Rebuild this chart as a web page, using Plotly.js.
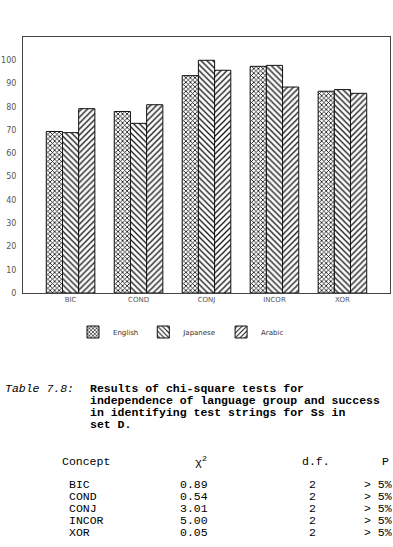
<!DOCTYPE html>
<html>
<head>
<meta charset="utf-8">
<script src="https://cdn.plot.ly/plotly-3.0.1.min.js"></script>
<style>
  html, body { margin: 0; padding: 0; background: #fff; }
  #chart { width: 393px; height: 547px; }
</style>
</head>
<body>
<div id="chart"></div>
<script>
// ---- Data ----
const categories = ["BIC", "COND", "CONJ", "INCOR", "XOR"];
const english  = [69.4, 78.0, 93.4, 97.4, 86.7];
const japanese = [68.9, 72.9, 100.0, 97.8, 87.4];
const arabic   = [79.2, 80.9, 95.7, 88.5, 85.8];
const seriesNames = ["English", "Japanese", "Arabic"];
const yTicks = [0, 10, 20, 30, 40, 50, 60, 70, 80, 90, 100];

const captionLabel = "Table 7.8:";
const captionLines = [
  "Results of chi-square tests for",
  "independence of language group and success",
  "in identifying test strings for Ss in",
  "set D."
];
const tableHeaders = ["Concept", "χ<sup>2</sup>", "d.f.", "P"];
const tableConcepts = ["BIC", "COND", "CONJ", "INCOR", "XOR"];
const tableChi = ["0.89", "0.54", "3.01", "5.00", "0.05"];
const tableDf = ["2", "2", "2", "2", "2"];
const tableP = ["> 5%", "> 5%", "> 5%", "> 5%", "> 5%"];

// ---- Layout helpers (pixel -> paper) ----
const W = 393, H = 547;
const M = { l: 23, r: 3, t: 37, b: 254 };
const PW = W - M.l - M.r, PH = H - M.t - M.b;
const px = x => (x - M.l) / PW;
const py = y => (H - M.b - y) / PH;

const patterns = [
  { shape: "x", size: 3.2, solidity: 0.45, fgcolor: "#111", bgcolor: "#fff" },
  { shape: "\\", size: 4.2, solidity: 0.3, fgcolor: "#111", bgcolor: "#fff" },
  { shape: "/", size: 4.2, solidity: 0.3, fgcolor: "#111", bgcolor: "#fff" }
];
const values = [english, japanese, arabic];

const traces = values.map((v, i) => ({
  type: "bar",
  name: seriesNames[i],
  x: categories,
  y: v,
  marker: {
    color: "#fff",
    line: { color: "#111", width: 1 },
    pattern: patterns[i]
  },
  hoverinfo: "skip"
}));

const mono = "Liberation Mono, Courier New, monospace";
const annotations = [];
function addText(text, x, y, opts) {
  annotations.push(Object.assign({
    text: text, xref: "paper", yref: "paper",
    x: px(x), y: py(y), xanchor: "left", yanchor: "middle",
    showarrow: false,
    font: { family: mono, size: 11.5, color: "#000" }
  }, opts || {}));
}

addText("<i>" + captionLabel + "</i>", 3, 388);
captionLines.forEach((t, i) => addText("<b>" + t + "</b>", 88, 388 + i * 12.2));

const colX = [60, 193, 300, 380];
tableHeaders.forEach((h, i) => addText(h, colX[i], 461));
const rowX = [67, 178, 307, 362];
tableConcepts.forEach((c, i) => {
  const y = 484.5 + i * 11.9;
  addText(c, rowX[0], y);
  addText(tableChi[i], rowX[1], y);
  addText(tableDf[i], rowX[2], y);
  addText(tableP[i], rowX[3], y);
});

const layout = {
  width: W, height: H,
  margin: M,
  paper_bgcolor: "#fff",
  plot_bgcolor: "#fff",
  barmode: "group",
  bargap: 0.285,
  bargroupgap: 0,
  font: { family: "DejaVu Sans, sans-serif", size: 7, color: "#444" },
  showlegend: true,
  legend: {
    orientation: "h",
    x: px(73), xanchor: "left",
    y: py(332), yanchor: "middle",
    font: { family: "DejaVu Sans, sans-serif", size: 7, color: "#333" },
    itemwidth: 30,
    bgcolor: "rgba(0,0,0,0)"
  },
  xaxis: {
    type: "category",
    range: [-0.7, 4.7],
    showline: true, mirror: true, linecolor: "#444", linewidth: 1,
    showgrid: false, zeroline: false, ticks: "",
    tickfont: { family: "DejaVu Sans, sans-serif", size: 7, color: "#555" },
    fixedrange: true
  },
  yaxis: {
    range: [0, 110],
    tickvals: yTicks,
    showline: true, mirror: true, linecolor: "#444", linewidth: 1,
    showgrid: false, zeroline: false, ticks: "",
    ticklabelstandoff: 4,
    tickfont: { family: "DejaVu Sans, sans-serif", size: 8, color: "#555" },
    fixedrange: true
  },
  annotations: annotations
};

Plotly.newPlot("chart", traces, layout, { staticPlot: true, displayModeBar: false });
</script>
</body>
</html>
